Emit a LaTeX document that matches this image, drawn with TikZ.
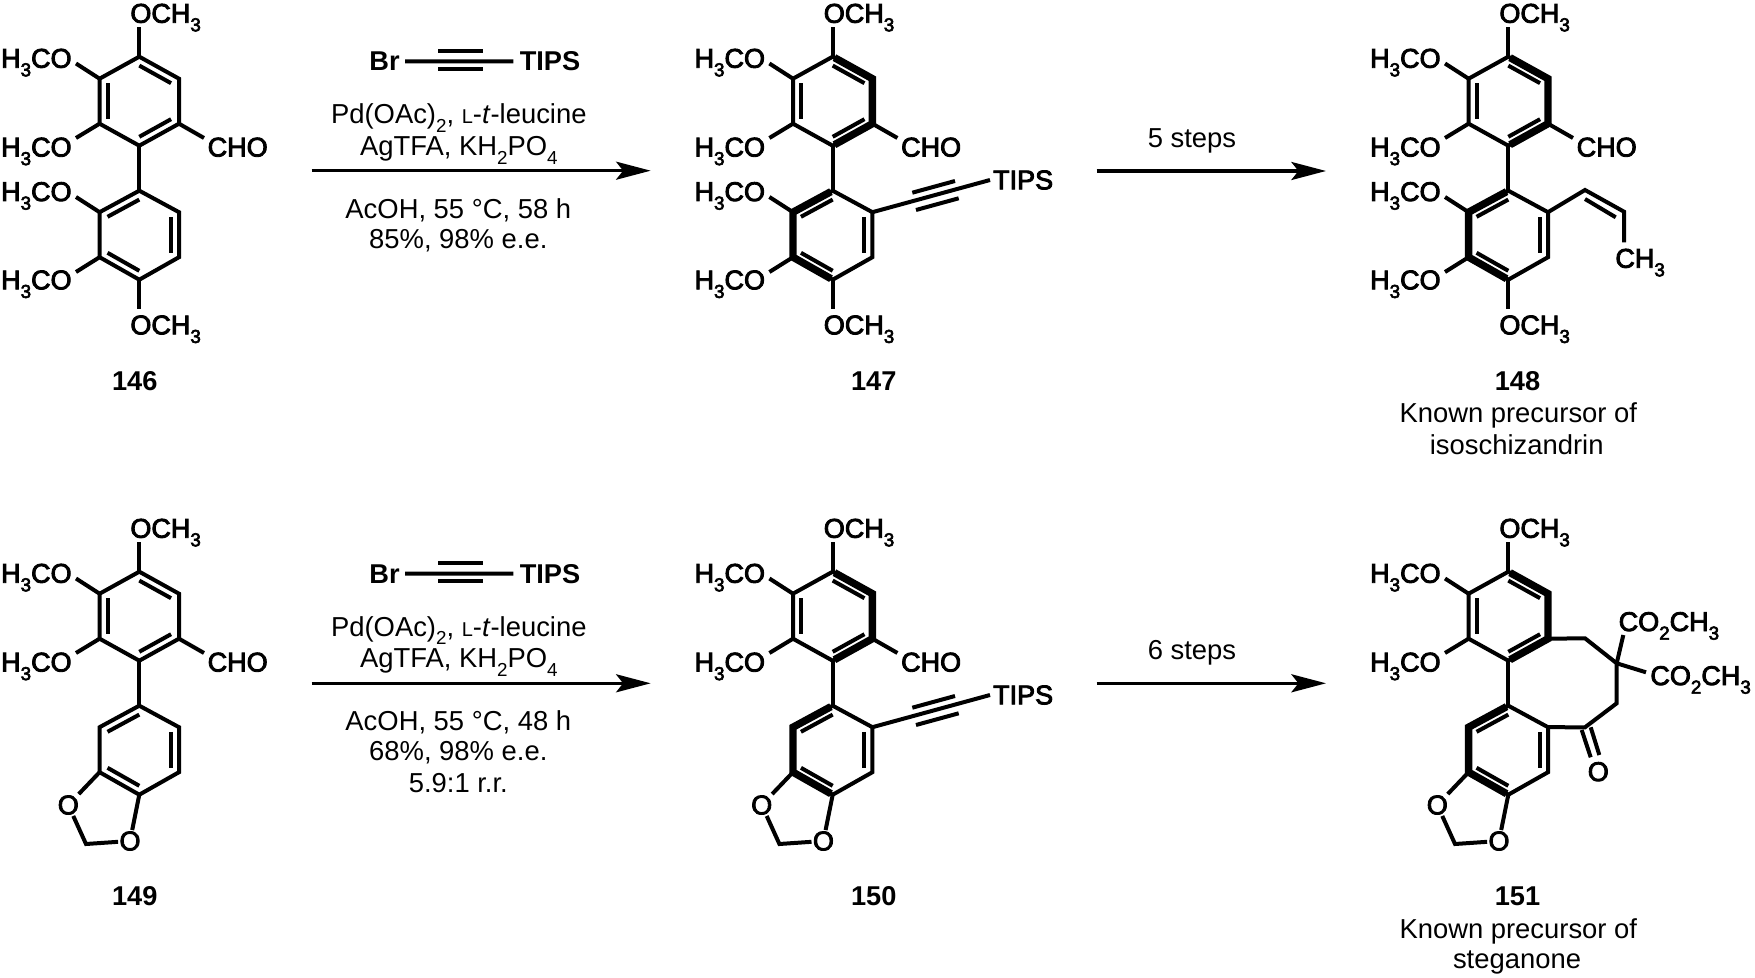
\documentclass[tikz,border=0pt]{standalone}
\usepackage{fontspec}
\setmainfont{Liberation Sans}
\newfontfamily\chemfont[FakeBold=3.2]{Liberation Sans}
\usetikzlibrary{arrows.meta,calc}

\newcommand{\lowr}[1]{\raisebox{-.32em}{\fontsize{9.4}{9.4}\selectfont #1}}
\newcommand{\dbl}[3]{\draw[bond] ($(#1)!.2!(#3)$) -- ($(#2)!.2!(#3)$);}

\newcommand{\ringatoms}{
\foreach \n/\x/\y in {a1/0/0,a2/39.7/22,a3/39.7/67,a4/0/89,a5/-39.7/67,a6/-39.7/22,ca/0/44.5,
  b1/0/134,b2/39.7/155.5,b3/39.7/200.5,b4/0/223,b5/-39.7/200.5,b6/-39.7/155.5,cb/0/178.5}
\coordinate (\n) at (\x,\y);
}
\newcommand{\upperring}{
\node[atomtxt,anchor=base west] (ome1) at (-9.3,-35) {OCH\lowr{3}};
\node[atomtxt,anchor=base east] (ome2) at (-67.3,10) {H\lowr{3}CO};
\node[atomtxt,anchor=base east] (ome3) at (-67.3,98.8) {H\lowr{3}CO};
\node[atomtxt,anchor=base west] (cho) at (68,98.8) {CHO};
\coordinate (ome1e) at (0,-29.7);
\coordinate (ome2e) at (-63.3,6.8);
\coordinate (ome3e) at (-63.3,81.3);
\coordinate (choe) at (64.7,81.3);
\draw[bond] (a1) -- (a2) -- (a3) -- (a4) -- (a5) -- (a6) -- cycle;
\draw[bond] (a4) -- (b1);
\draw[bond] (a1) -- (ome1e);
\draw[bond] (a6) -- (ome2e);
\draw[bond] (a5) -- (ome3e);
\draw[bond] (a3) -- (choe);
\dbl{a1}{a2}{ca} \dbl{a6}{a5}{ca} \dbl{a4}{a3}{ca}
}
\newcommand{\lowerring}{
\draw[bond] (b1) -- (b2) -- (b3) -- (b4) -- (b5) -- (b6) -- cycle;
\dbl{b1}{b6}{cb} \dbl{b2}{b3}{cb} \dbl{b5}{b4}{cb}
}
\newcommand{\loweroxy}{
\node[atomtxt,anchor=base east] (ome4) at (-67.3,143.3) {H\lowr{3}CO};
\node[atomtxt,anchor=base east] (ome5) at (-67.3,231.6) {H\lowr{3}CO};
\node[atomtxt,anchor=base west] (ome6) at (-9.3,276.6) {OCH\lowr{3}};
\coordinate (ome4e) at (-63.3,140.3);
\coordinate (ome5e) at (-63.3,215.3);
\coordinate (ome6e) at (0,252.3);
\draw[bond] (b6) -- (ome4e);
\draw[bond] (b5) -- (ome5e);
\draw[bond] (b4) -- (ome6e);
}
\newcommand{\dioxole}{
\node[atomtxt,inner sep=.5pt] (o1) at (-71,232.3) {O};
\node[atomtxt,inner sep=.5pt] (o2) at (-9.3,268.3) {O};
\coordinate (ch2) at (-53.3,272.3);
\draw[bond] (b5) -- (o1) -- (ch2) -- (o2) -- (b4);
}
\newcommand{\tipsarm}{
\node[atomtxt,anchor=base west] (tips) at (160,131.6) {TIPS};
\coordinate (tipse) at (157.3,123.3);
\coordinate (t1) at (79.6,136);
\coordinate (t2) at (122.3,124.3);
\coordinate (t3) at (83.3,153.3);
\coordinate (t4) at (126,141.6);
\draw[bond] (b2) -- (tipse);
\draw[bond] (t1) -- (t2);
\draw[bond] (t3) -- (t4);
}
\newcommand{\boldupper}{\draw[boldbond] (a1) -- (a2) -- (a3) -- (a4);}
\newcommand{\boldlower}{\draw[boldbond] (b1) -- (b6) -- (b5) -- (b4);}
\newcommand{\reagent}{
\node[boldtxt] (br) at (384.5,70) {Br};
\node[boldtxt] (rtips) at (550,70) {TIPS};
\coordinate (tr1) at (438.3,50.7);
\coordinate (tr2) at (482.7,50.7);
\coordinate (tr3) at (438.3,68.7);
\coordinate (tr4) at (482.7,68.7);
\draw[bond,shorten <=2.5pt,shorten >=3pt] (br.east) -- (rtips.west);
\draw[bond] (tr1) -- (tr2);
\draw[bond] (tr3) -- (tr4);
\node[condtxt] (cat) at (458.8,123.3) {Pd(OAc)\lowr{2}, {\fontsize{10}{10}\selectfont L}-\textit{t}-leucine};
\node[condtxt] (salt) at (458.8,155) {AgTFA, KH\lowr{2}PO\lowr{4}};
}

\tikzset{
bond/.style={line width=2pt,line join=miter},
boldbond/.style={line width=3.7pt,line join=miter,shorten <=1pt,shorten >=1pt},
atomtxt/.style={inner sep=0pt,yshift=-.5pt,font=\chemfont\fontsize{13.5}{13.5}\selectfont},
boldtxt/.style={inner sep=0pt,anchor=base,yshift=-.4pt,font=\bfseries\fontsize{13.6}{13.6}\selectfont},
condtxt/.style={inner sep=0pt,anchor=base,yshift=-.3pt,font=\fontsize{13.7}{13.7}\selectfont},
rxnarrow/.style={line width=1.7pt,-{Stealth[length=17.3pt,width=9pt,inset=3.5pt]}}
}

\begin{document}
\begin{tikzpicture}[x=.5pt,y=-.5pt]
\useasboundingbox (0,0) rectangle (1755,978);

\begin{scope}[shift={(139.3,56.7)},name prefix=m146-]
\ringatoms \upperring \lowerring \loweroxy
\end{scope}
\begin{scope}[shift={(832.7,56.7)},name prefix=m147-]
\ringatoms \upperring \lowerring \loweroxy \tipsarm \boldupper \boldlower
\end{scope}
\begin{scope}[shift={(1508.3,56.7)},name prefix=m148-]
\ringatoms \upperring \lowerring \loweroxy \boldupper \boldlower
\node[atomtxt,anchor=base west] (ch3) at (106.7,210) {CH\lowr{3}};
\coordinate (c1) at (76.7,133.3);
\coordinate (c2) at (115.7,155);
\coordinate (c3) at (76.7,142.3);
\coordinate (c4) at (107.4,160.6);
\coordinate (ch3e) at (115.7,185.6);
\draw[bond] (b2) -- (c1) -- (c2) -- (ch3e);
\draw[bond] (c3) -- (c4);
\end{scope}
\begin{scope}[shift={(139.3,571.7)},name prefix=m149-]
\ringatoms \upperring \lowerring \dioxole
\end{scope}
\begin{scope}[shift={(832.7,571.7)},name prefix=m150-]
\ringatoms \upperring \lowerring \dioxole \tipsarm \boldupper \boldlower
\end{scope}
\begin{scope}[shift={(1508.3,571.7)},name prefix=m151-]
\ringatoms
\node[atomtxt,anchor=base west] (ome1) at (-9.3,-35) {OCH\lowr{3}};
\node[atomtxt,anchor=base east] (ome2) at (-67.3,10) {H\lowr{3}CO};
\node[atomtxt,anchor=base east] (ome3) at (-67.3,98.8) {H\lowr{3}CO};
\coordinate (ome1e) at (0,-29.7);
\coordinate (ome2e) at (-63.3,6.8);
\coordinate (ome3e) at (-63.3,81.3);
\draw[bond] (a1) -- (a2) -- (a3) -- (a4) -- (a5) -- (a6) -- cycle;
\draw[bond] (a4) -- (b1);
\draw[bond] (a1) -- (ome1e);
\draw[bond] (a6) -- (ome2e);
\draw[bond] (a5) -- (ome3e);
\dbl{a1}{a2}{ca} \dbl{a6}{a5}{ca} \dbl{a4}{a3}{ca}
\lowerring \dioxole \boldupper \boldlower
\foreach \n/\x/\y in {d1/76.7/66.6,d2/108.4/91.6,d3/108.4/131.6,d4/76.7/155.6,
  co1/73.4/158.3,co2/82.4/185.6,co3/82.4/155.6,co4/91/183.3,est1e/115/63.3,est2e/137.7/100.6}
\coordinate (\n) at (\x,\y);
\node[atomtxt,inner sep=.5pt] (oket) at (90,199) {O};
\node[atomtxt,anchor=base west] (est1) at (110,58.3) {CO\lowr{2}CH\lowr{3}};
\node[atomtxt,anchor=base west] (est2) at (141.7,112.3) {CO\lowr{2}CH\lowr{3}};
\draw[bond] (a3) -- (d1) -- (d2) -- (d3) -- (d4) -- (b2);
\draw[bond] (co1) -- (co2);
\draw[bond] (co3) -- (co4);
\draw[bond] (d2) -- (est1e);
\draw[bond] (d2) -- (est2e);
\end{scope}

\begin{scope}[name prefix=rA-]
\reagent
\node[condtxt] (cond1) at (458.3,218.3) {AcOH, 55 °C, 58 h};
\node[condtxt] (cond2) at (458.3,248.3) {85\%, 98\% e.e.};
\end{scope}
\begin{scope}[shift={(0,512.3)},name prefix=rB-]
\reagent
\node[condtxt] (cond1) at (458.3,217.7) {AcOH, 55 °C, 48 h};
\node[condtxt] (cond2) at (458.3,247.7) {68\%, 98\% e.e.};
\node[condtxt] (cond3) at (458.3,280) {5.9:1 r.r.};
\end{scope}

\foreach \n/\xa/\xb/\y in {arwA/311.7/650.7/170.7,arwB/311.7/650.7/683.3,arwC/1096.7/1326/171,arwD/1096.7/1326/683.3}{
\coordinate (\n s) at (\xa,\y);
\coordinate (\n e) at (\xb,\y);
\draw[rxnarrow] (\n s) -- (\n e);
}
\node[condtxt] (five) at (1192,146.7) {5 steps};
\node[condtxt] (six) at (1192,659.3) {6 steps};

\foreach \t/\x/\y in {146/134.7/390,147/873.8/390,148/1517.5/390,149/134.7/904.7,150/873.8/904.7,151/1517.5/904.7}
\node[boldtxt] (n\t) at (\x,\y) {\t};
\node[condtxt] (knownA) at (1518.3,422.3) {Known precursor of};
\node[condtxt] (isos) at (1516.7,454.3) {isoschizandrin};
\node[condtxt] (knownB) at (1518.3,937.7) {Known precursor of};
\node[condtxt] (stega) at (1517,968.3) {steganone};
\end{tikzpicture}
\end{document}
